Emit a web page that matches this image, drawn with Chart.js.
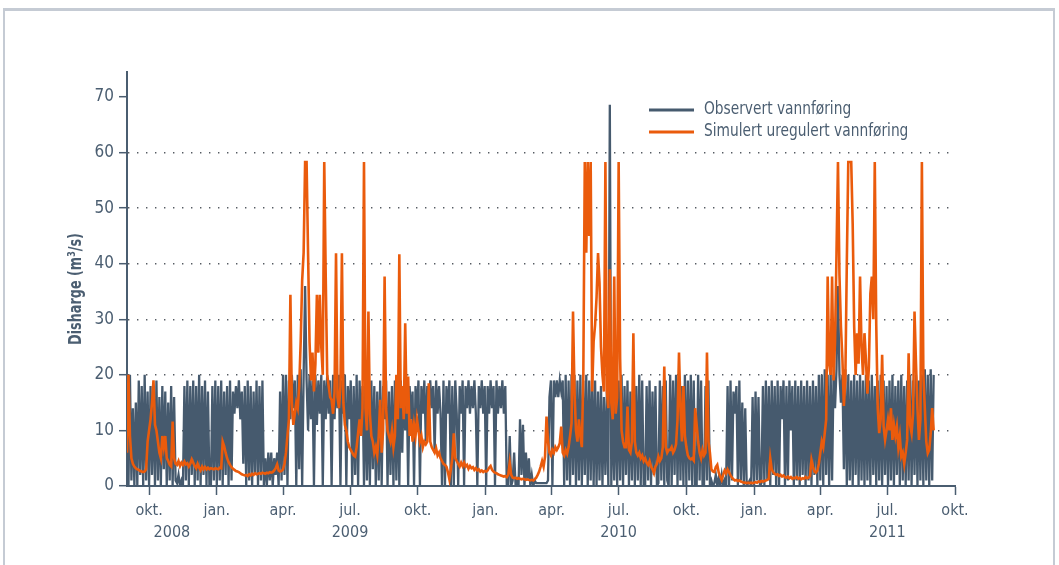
<!DOCTYPE html>
<html>
<head>
<meta charset="utf-8">
<title>Vannføring</title>
<script src="https://cdn.jsdelivr.net/npm/chart.js@4.4.1/dist/chart.umd.min.js"></script>
<style>
  body { margin: 0; background: #fff; }
  canvas { display: block; }
</style>
</head>
<body>
<canvas id="chart_vann" width="1059" height="565"></canvas>
<script>
// Serier: én verdi per andre døgn, fra 1. sep. 2008
var startDato = '2008-09-01'
var stegDager = 2

// Observert vannføring (m3/s)
var observert0809 = [
    19,0,20,1,14,0,15,0,19,2,18,0,20,1,17,        // sep
    0,18,2,17,0,19,1,16,0,18,3,17,0,15,1,18,      // okt
    0,16,1,0.5,2,0,1,0,18,1,19,0,18,2,19,         // nov
    0,18,1,20,0,18,2,19,0,17,0,0,18,1,19,         // des
    0,18,1,19,0,17,2,18,0,19,1,17,13,18,14,19,    // jan
    12,17,4,18,0,19,1,18,0,17,2,19,0,18,          // feb
    1,19,0,5,0,6,1,6,0,5,2,6,0,17,1,              // mar
    20,2,20,0,19,12,20,14,19,0,20,3,21,0,20,      // apr
    36,19,10,20,12,19,0,20,11,19,13,20,0,19,12,20,// mai
    13,19,0,20,12,19,14,20,0,19,13,20,0,18,12,    // jun
    19,0,18,2,20,0,19,10,18,0,19,1,17,0,19,       // jul
    3,18,0,17,1,19,0,18,12,19,0,17,2,18,0,19      // aug
]
var observert0910 = [
    1,18,0,19,6,18,10,19,0,18,12,17,0,18,13,
    19,0,18,13,19,8,18,13,19,14,18,6,19,13,18,
    13,0,19,0,18,13,19,0,18,0,19,13,0,18,13,
    19,0,18,14,19,13,18,14,19,13,0,18,14,19,13,18,
    0,18,13,19,14,18,0,19,13,18,14,19,13,18,0,
    0,9,0,1,6,0,1,0,12,2,11,0,6,1,
    5,0,2,0,1,0.5,0.5,0.5,0.5,0.5,0.5,0.5,0.5,1,16,19,
    0,19,16,19,16,19,17,19,0,20,1,19,0,20,2,
    20,0,19,1,20,0,19,2,20,0,19,1,20,0,19,
    0,17,1,18,0,16,2,17,0,68.6,0,16,1,18,0,
    19,1,20,0,18,2,19,0,17,1,19,0,18,1,20,0,
    19,0,0,18,1,19,0,17,2,18,0,0.5,19,1,18
]
var observert1011 = [
    0,19,1,0,20,0,19,2,20,0,19,1,18,0,20,
    0,19,1,20,0,19,0,0,20,1,19,0,0,18,1,19,
    0,1,0,0.5,2,0,1.5,0,2,0,1,0,18,0,19,
    1,17,13,18,0,19,1,15,0,14,0,0.5,1,0,16,
    0,17,1,16,0,0.5,18,0,19,1,18,0,19,2,18,0,
    19,0,18,12,19,0,18,1,19,10,18,0,19,1,
    18,0,19,2,18,0,19,1,18,0,19,2,18,0,20,
    1,20,0,21,2,20,0,21,1,20,14,21,36,20,15,
    20,3,21,0,20,1,19,0,20,2,19,0,20,1,19,0,
    20,1,19,0,20,2,18,0,19,1,20,0,19,2,18,
    0,19,1,20,0,18,2,19,0,20,1,18,0,19,1,
    20,0,19,2,20,0,19,1,20,0,21,1,20,0,21,1,20
]

// Simulert uregulert vannføring (m3/s)
var simulert0809 = [
    6,20,9,5,4,3.5,3.2,3,2.9,2.7,2.6,2.5,2.6,3,8,
    10,12,15,19,11,10,8,6,5,9,7,9,5,4.5,3.8,3.5,
    11.6,5,4,3.8,4.5,3.6,4.2,3.8,4.4,3.9,4.1,3.5,4,4.8,4.2,
    3.6,3.2,4,3.3,2.8,3.5,3,3.4,3,3.3,3,3.2,3.1,3,3.2,
    3.1,3,3.3,3.2,8,7.2,6,5,4.3,3.8,3.4,3.1,2.9,2.7,2.6,2.5,
    2.3,2.1,2,1.9,2,1.8,2.1,1.9,2.2,2,2.3,2.1,2.2,2.3,
    2.2,2.4,2.3,2.2,2.4,2.3,2.5,2.4,2.5,2.8,3.2,3.9,2.8,2.6,2.7,
    3,4,6,9,12,34.4,15,11,13,15,14,18,26,37,42,
    58.3,58.3,42,26,19,24,17,22,34.4,24,34.4,25,20,58.3,37.7,20,
    18,16,15.5,13,17,41.9,16,14,18,41.9,15,11,10,8,7,
    6.5,6,5.5,5.3,7,9.5,12,9,14,58.3,14,10,31.4,13,9,
    8,6,7,5.5,9,15.5,6,10,37.7,14,10,9,8,10,7,9
]
var simulert0910 = [
    20,12,41.7,14,18,12,29.3,13,19.7,9,12,8,11,9,12,
    10,8,9,7,8,7.5,8,18.5,8,7,6.5,6,6.8,5.5,6,
    5,4.5,4,3.8,3.5,2.5,1.2,3,5,9.5,5,4.5,4,3.5,4.2,
    3.6,4.2,3.5,3.8,3.1,3.6,3.2,3.4,2.9,3.2,2.8,3,2.6,2.8,2.5,2.7,
    2.6,2.8,3.3,3.6,2.9,2.6,2.4,2.3,2.1,2,1.9,1.8,1.7,1.8,1.6,
    2,4.2,2,1.5,1.4,1.5,1.3,1.4,1.3,1.2,1.3,1.2,1.1,1.2,
    1.1,1,1.1,1,1.2,1.5,2,2.6,3.5,4.5,3.5,5.3,12.5,8,6,5.5,
    6.5,6,7,6.5,7,7.7,10.7,6,5.5,6.5,5.8,7,9,11.3,31.4,
    17,10,8,12,9,7,20,58.3,42,58.3,45,58.3,17,26,29,
    34,41.9,36.5,25,20,17,58.3,17,14,39,15,12,37.7,13,16,
    58.3,23,10,8,7,7,14.3,6.5,6,8,27.5,8,6,5.5,6,5,
    5.5,4.5,5,4.2,3.8,4.5,3.5,3,2.3,3.5,4,5.3,4.5,5,7
]
var simulert1011 = [
    21.5,7,6,6.5,6.5,7,6,6.5,7.5,12,24,14,8,18,9,
    7,5.5,5,4.8,5,4.6,14,11,8,6,5,6.5,5.5,6,24,8,
    6,3,2.6,2.5,3.4,3.8,2.4,1.7,1.1,2,2.8,2.3,3,2.5,1.9,
    1.5,1.2,1,1.1,0.9,1,0.8,0.7,0.6,0.6,0.5,0.6,0.5,0.6,0.5,
    0.6,0.7,0.6,0.8,0.7,0.9,0.8,0.9,1,1.1,1.3,5,3,2.5,2.2,2,
    2.1,1.8,2,1.7,1.9,1.6,1.5,1.7,1.4,1.6,1.3,1.5,1.4,1.6,
    1.3,1.5,1.2,1.4,1.3,1.6,1.4,1.5,1.8,4.7,3.5,2.6,2.4,2.8,4,
    6,8,7,9.5,12,37.7,22,20,37.7,19,26,41.9,58.3,38,28.7,
    23,14.4,19,40,58.3,58.3,58.3,47,28.7,20,27.5,22,37.7,25,20,27.5,
    22.6,16.6,21.4,34.6,37.7,30,58.3,29,14,9.5,12,23.6,10.7,8.3,10,
    12,10,14,8.3,11,9,10.7,7,9,5.3,6,4,6,8.3,23.9,
    11,9.5,13,31.4,22,14,8.3,12,58.3,20,14,8,5.9,6.5,9.5,14,10
]

// Akser
var tickDatoer = ['2008-10-01', '2009-01-01', '2009-04-01', '2009-07-01', '2009-10-01', '2010-01-01',
    '2010-04-01', '2010-07-01', '2010-10-01', '2011-01-01', '2011-04-01', '2011-07-01', '2011-10-01']
var tickEtiketter = ['okt.', 'jan.', 'apr.', 'jul.', 'okt.', 'jan.', 'apr.', 'jul.', 'okt.', 'jan.', 'apr.', 'jul.', 'okt.']
var aarEtiketter = ['2008', '2009', '2010', '2011']
var aarDatoer = ['2008-11-01', '2009-07-01', '2010-07-01', '2011-07-01']
var yVerdier = [0, 10, 20, 30, 40, 50, 60, 70]

var fonte = "'DejaVu Sans Condensed', 'Liberation Sans Narrow', 'Open Sans', sans-serif"
var tekstFarge = '#4b5e71'
var akseFarge = '#4a5d70'
var fargeObs = '#465a6e'
var fargeSim = '#ea5b0c'

function dagNr(dato) {
    return (Date.parse(dato) - Date.parse(startDato)) / 86400000
}

function tilPunkter(verdier) {
    return verdier.map(function (v, i) { return { x: i * stegDager, y: v } })
}

var observert = observert0809.concat(observert0910, observert1011)
var simulert = simulert0809.concat(simulert0910, simulert1011)

// Ramme rundt figuren
var ramme = {
    id: 'ramme',
    beforeDraw: function (chart) {
        var ctx = chart.ctx
        ctx.save()
        ctx.strokeStyle = '#c5cbd4'
        ctx.lineWidth = 3
        ctx.beginPath()
        ctx.moveTo(3, 9.5)
        ctx.lineTo(1055, 9.5)
        ctx.stroke()
        ctx.lineWidth = 2
        ctx.beginPath()
        ctx.moveTo(4, 9)
        ctx.lineTo(4, 565)
        ctx.moveTo(1054, 9)
        ctx.lineTo(1054, 565)
        ctx.stroke()
        ctx.restore()
    }
}

// Tegnforklaring, aksetittel og årstall
var tekster = {
    id: 'tekster',
    afterDraw: function (chart) {
        var ctx = chart.ctx
        ctx.save()
        ctx.textBaseline = 'middle'
        ctx.textAlign = 'left'
        var rader = [['Observert vannføring', fargeObs, 110], ['Simulert uregulert vannføring', fargeSim, 132]]
        rader.forEach(function (r) {
            ctx.strokeStyle = r[1]
            ctx.lineWidth = 3
            ctx.beginPath()
            ctx.moveTo(649, r[2])
            ctx.lineTo(694, r[2])
            ctx.stroke()
            ctx.save()
            ctx.translate(704, r[2])
            ctx.scale(0.9, 1)
            ctx.font = '17px ' + fonte
            ctx.fillStyle = tekstFarge
            ctx.fillText(r[0], 0, 0)
            ctx.restore()
        })

        var x = chart.scales.x
        ctx.textAlign = 'center'
        ctx.font = '16px ' + fonte
        ctx.fillStyle = tekstFarge
        aarEtiketter.forEach(function (aar, i) {
            ctx.fillText(aar, x.getPixelForValue(dagNr(aarDatoer[i])), 533)
        })

        ctx.translate(76, 289)
        ctx.rotate(-Math.PI / 2)
        ctx.scale(0.79, 1)
        ctx.font = 'bold 18px ' + fonte
        ctx.fillText('Disharge (m³/s)', 0, 0)
        ctx.restore()
    }
}

const chart_vann = document.getElementById('chart_vann').getContext('2d')
const chart = new Chart(chart_vann, {
    type: 'line',
    data: {
        datasets: [{
            label: 'Observert vannføring',
            data: tilPunkter(observert),
            borderColor: fargeObs,
            borderWidth: 2.3,
            order: 2
        }, {
            label: 'Simulert uregulert vannføring',
            data: tilPunkter(simulert),
            borderColor: fargeSim,
            borderWidth: 2.6,
            order: 1
        }]
    },
    options: {
        responsive: false,
        animation: false,
        layout: { padding: { top: 72, right: 104, bottom: 0, left: 0 } },
        elements: { point: { radius: 0 }, line: { tension: 0 } },
        plugins: { legend: { display: false }, tooltip: { enabled: false } },
        scales: {
            x: {
                type: 'linear',
                min: 0,
                max: dagNr('2011-10-01'),
                afterBuildTicks: function (akse) {
                    akse.ticks = tickDatoer.map(function (d) { return { value: dagNr(d) } })
                },
                afterFit: function (akse) { akse.height = 79 },
                ticks: {
                    autoSkip: false,
                    maxRotation: 0,
                    padding: 6,
                    color: tekstFarge,
                    font: { family: fonte, size: 16 },
                    callback: function (v, i) { return tickEtiketter[i] }
                },
                grid: { drawOnChartArea: false, tickLength: 9, tickWidth: 1.5, tickColor: akseFarge },
                border: { display: true, color: akseFarge, width: 2 }
            },
            y: {
                min: 0,
                max: 74.5,
                afterBuildTicks: function (akse) {
                    akse.ticks = yVerdier.map(function (v) { return { value: v } })
                },
                afterFit: function (akse) { akse.width = 127 },
                ticks: {
                    padding: 5,
                    color: tekstFarge,
                    font: { family: fonte, size: 17 }
                },
                grid: {
                    color: function (c) {
                        return (c.tick && c.tick.value > 0 && c.tick.value < 70) ? '#555b62' : 'rgba(0,0,0,0)'
                    },
                    lineWidth: 1.4,
                    tickLength: 8,
                    tickWidth: 1.5,
                    tickColor: akseFarge
                },
                border: { display: true, color: akseFarge, width: 2, dash: [1.4, 7.6] }
            }
        }
    },
    plugins: [ramme, tekster]
})
</script>
</body>
</html>
